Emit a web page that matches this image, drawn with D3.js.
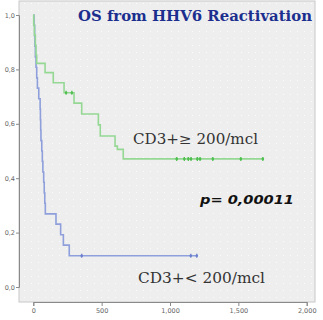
<!DOCTYPE html>
<html>
<head>
<meta charset="utf-8">
<script src="https://cdn.jsdelivr.net/npm/d3@7"></script>
<style>
  body { margin: 0; background: #fff; }
  svg { display: block; }
</style>
</head>
<body>
<div id="chart"></div>
<script>
// Kaplan-Meier data (days, survival)
const highTimes = [0, 3, 8, 15, 20, 25, 86, 146, 225, 298, 354, 476, 490, 598, 615, 658];
const highSurv  = [1, 0.963, 0.926, 0.889, 0.852, 0.822, 0.788, 0.751, 0.714, 0.676, 0.636, 0.596, 0.555, 0.518, 0.506, 0.471];
const highCensored = [240, 282, 1049, 1105, 1134, 1154, 1200, 1220, 1313, 1518, 1679];

const lowTimes = [0, 5, 10, 12, 15, 20, 25, 30, 40, 50, 52, 54, 56, 62, 66, 70, 76, 80, 84, 88, 166, 200, 220, 263];
const lowSurv  = [1, 0.962, 0.923, 0.885, 0.846, 0.808, 0.769, 0.731, 0.692, 0.654, 0.615, 0.577, 0.538, 0.5, 0.462, 0.423, 0.385, 0.346, 0.308, 0.269, 0.231, 0.192, 0.154, 0.115];
const lowCensored = [354, 1152, 1196];

const xTicks = [0, 500, 1000, 1500, 2000];
const yTicks = [0, 0.2, 0.4, 0.6, 0.8, 1];

const width = 323, height = 320;
const frame = {left: 19, top: 1, right: 315, bottom: 302};

const svg = d3.select("#chart").append("svg")
    .attr("width", width)
    .attr("height", height);

// dotted background like the original
const defs = svg.append("defs");
const pat = defs.append("pattern")
    .attr("id", "dots")
    .attr("width", 7).attr("height", 7)
    .attr("patternUnits", "userSpaceOnUse");
pat.append("rect").attr("width", 7).attr("height", 7).attr("fill", "#eeeeee");
pat.append("rect").attr("x", 3).attr("y", 3).attr("width", 1).attr("height", 1).attr("fill", "#fbfbfb");

svg.append("rect")
    .attr("x", frame.left).attr("y", frame.top)
    .attr("width", frame.right - frame.left)
    .attr("height", frame.bottom - frame.top)
    .attr("fill", "url(#dots)")
    .attr("stroke", "#c8c8c8");

let x = d3.scaleLinear().domain([0, 2000]).range([33.3, 306.7]);
let y = d3.scaleLinear().domain([0, 1]).range([287, 15]);

const fmt = d => d3.format(".1f")(d).replace(".", ",");

let yAxis = svg.append("g")
    .attr("transform", `translate(${frame.left},0)`)
    .call(d3.axisLeft(y).tickValues(yTicks).tickSize(3).tickPadding(1).tickFormat(fmt));
let xAxis = svg.append("g")
    .attr("transform", `translate(0,${frame.bottom})`)
    .call(d3.axisBottom(x).tickValues(xTicks).tickSize(4).tickPadding(2));

[yAxis, xAxis].forEach(a => {
    a.select(".domain").attr("stroke", "#8a8a8a");
    a.selectAll(".tick line").attr("stroke", "#8a8a8a");
    a.selectAll("text")
        .attr("fill", "#666")
        .style("font-family", "DejaVu Sans, sans-serif")
        .style("font-size", "6.5px");
});

let line = d3.line()
    .x(d => x(d[0]))
    .y(d => y(d[1]))
    .curve(d3.curveStepAfter);

function drawGroup(times, surv, censored, color, markColor) {
    let pts = times.map((t, i) => [t, surv[i]]);
    let last = surv[surv.length - 1];
    let end = d3.max(censored.concat(times));
    pts.push([end, last]);

    svg.append("path")
        .datum(pts)
        .attr("fill", "none")
        .attr("stroke", color)
        .attr("stroke-width", 1.6)
        .attr("d", line);

    // censor marks: survival at that time
    let marks = censored.map(t => {
        let i = d3.bisectRight(times, t) - 1;
        return [t, surv[i]];
    });
    let g = svg.append("g");
    g.selectAll("line.v")
        .data(marks)
        .enter()
        .append("line")
        .attr("x1", d => x(d[0])).attr("x2", d => x(d[0]))
        .attr("y1", d => y(d[1]) - 2).attr("y2", d => y(d[1]) + 2)
        .attr("stroke", markColor)
        .attr("stroke-width", 1.2);
    g.selectAll("circle")
        .data(marks)
        .enter()
        .append("circle")
        .attr("cx", d => x(d[0]))
        .attr("cy", d => y(d[1]))
        .attr("r", 1.3)
        .attr("fill", markColor);
}

drawGroup(lowTimes, lowSurv, lowCensored, "#8e9fdc", "#6a7fcf");
drawGroup(highTimes, highSurv, highCensored, "#94d894", "#4fbf4f");

svg.append("text")
    .attr("x", 78).attr("y", 21)
    .attr("textLength", 234)
    .attr("lengthAdjust", "spacingAndGlyphs")
    .attr("fill", "#1c2f8f")
    .style("font-family", "DejaVu Serif, serif")
    .style("font-weight", "bold")
    .style("font-size", "15px")
    .text("OS from HHV6 Reactivation");

svg.append("text")
    .attr("x", 133).attr("y", 144)
    .attr("textLength", 125)
    .attr("lengthAdjust", "spacingAndGlyphs")
    .attr("fill", "#333")
    .style("font-family", "DejaVu Serif, serif")
    .style("font-size", "14px")
    .text("CD3+≥ 200/mcl");

svg.append("text")
    .attr("x", 138).attr("y", 283)
    .attr("textLength", 127)
    .attr("lengthAdjust", "spacingAndGlyphs")
    .attr("fill", "#333")
    .style("font-family", "DejaVu Serif, serif")
    .style("font-size", "14px")
    .text("CD3+< 200/mcl");

svg.append("text")
    .attr("x", 200).attr("y", 204)
    .attr("textLength", 94)
    .attr("lengthAdjust", "spacingAndGlyphs")
    .attr("fill", "#111")
    .style("font-family", "DejaVu Sans, sans-serif")
    .style("font-weight", "bold")
    .style("font-style", "italic")
    .style("font-size", "13px")
    .text("p= 0,00011");
</script>
</body>
</html>
